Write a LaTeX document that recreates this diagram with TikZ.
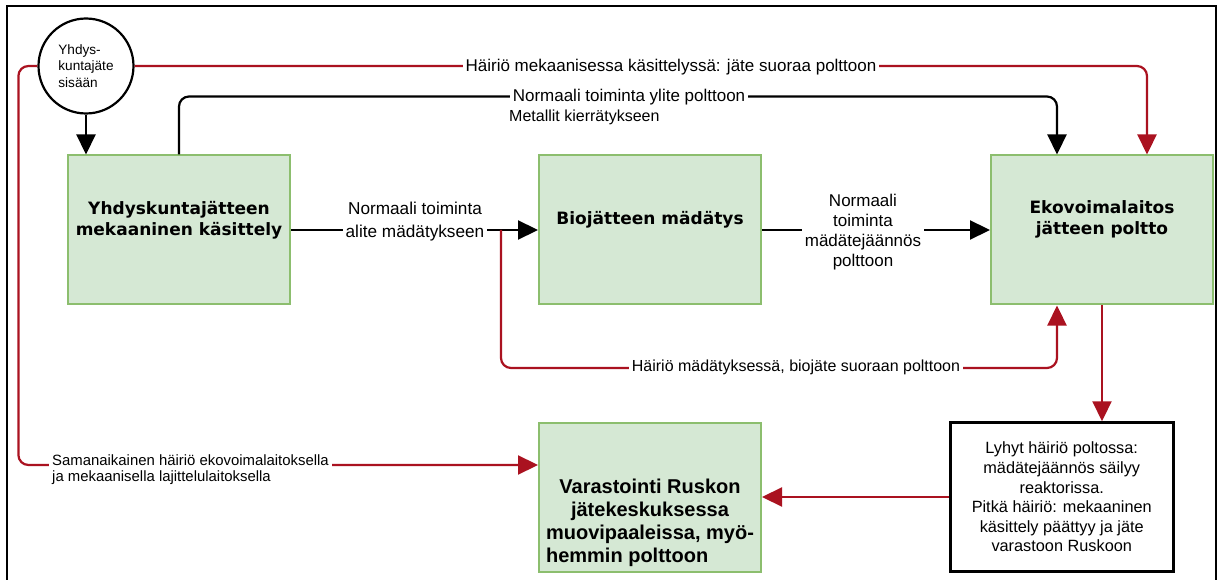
\documentclass[tikz,border=0pt]{standalone}
\usepackage{fontspec}
\setmainfont{Liberation Sans}
\newfontfamily\boxfont{DejaVu Sans}
\usetikzlibrary{arrows.meta,positioning}
\definecolor{boxgreen}{RGB}{140,190,110}
\definecolor{boxfill}{RGB}{213,232,212}
\definecolor{faultred}{RGB}{170,18,32}

\begin{document}
\begin{tikzpicture}[x=1pt,y=-1pt,
        box/.style={rectangle,draw=boxgreen,fill=boxfill,line width=2pt,
          minimum width=222pt,minimum height=149pt,align=center,text depth=24pt,
          font=\boxfont\bfseries\fontsize{17}{21}\selectfont},
        notebox/.style={rectangle,draw=black,fill=white,line width=2.5pt,
          minimum width=223pt,minimum height=149pt,align=center,
          font=\fontsize{16.3}{19.6}\selectfont},
        lbl/.style={fill=white,inner sep=3pt,align=center,font=\fontsize{17}{20}\selectfont},
        arrow/.style={-{Triangle[length=20pt,width=19pt]},line width=2.2pt},
        fault/.style={arrow,draw=faultred,rounded corners=10pt}]
        \useasboundingbox (0,0) rectangle (1219,580);
        \draw[line width=2pt] (7,580) |- (1216,6) -- (1216,580);
        \node[circle,draw,fill=white,line width=2.2pt,minimum size=95pt,inner sep=0pt,
          align=left,font=\fontsize{13.6}{16.5}\selectfont] (in) at (86,66) {Yhdys-\\kuntajäte\\sisään};
        \node[box] (mech) at (179,230) {Yhdyskuntajätteen\\mekaaninen käsittely};
        \node[box,right=247pt of mech] (bio) {Biojätteen mädätys};
        \node[box,right=228pt of bio] (eko) {Ekovoimalaitos\\jätteen poltto};
        \node[box,below=116pt of bio,font=\bfseries\fontsize{20}{23}\selectfont,text depth=0pt]
          (store) {\\[38pt]Varastointi Ruskon\\jätekeskuksessa\\\rlap{muovipaaleissa, myö-}\phantom{muovipaaleissa, myö-}\\\rlap{hemmin polttoon}\phantom{muovipaaleissa, myö-}};
        \node[notebox,right=187pt of store] (note) {Lyhyt häiriö poltossa:\\mädätejäännös säilyy\\reaktorissa.\\Pitkä häiriö: mekaaninen\\käsittely päättyy ja jäte\\varastoon Ruskoon};
        \draw[arrow] (in.south) -- (in.south |- mech.north);
        \draw[arrow,rounded corners=10pt] (mech.north) -- ++(0,-58) -| ([xshift=-45pt]eko.north);
        \draw[fault] (in.east) -| ([xshift=45pt]eko.north);
        \draw[fault] (in.west) -- ++(-19,0) |- ([yshift=32pt]store.west);
        \draw[arrow] (mech) -- (bio);
        \draw[fault] ([xshift=-37pt]bio.west) -- ++(0,138) -| ([xshift=-45pt]eko.south);
        \draw[arrow] (bio) -- (eko);
        \draw[fault] (eko.south) -- (eko.south |- note.north);
        \draw[fault] (store.east -| note.west) -- (store.east);
        \node[lbl] (toplbl) at (671,67) {Häiriö mekaanisessa käsittelyssä: jäte suoraa polttoon};
        \node[lbl] (ylite) at (629,97) {Normaali toiminta ylite polttoon};
        \node[lbl,anchor=west,font=\fontsize{16}{19}\selectfont] (metal) at (506,117) {Metallit kierrätykseen};
        \node[lbl,font=\fontsize{17.2}{23}\selectfont] (alite) at (415,222) {Normaali toiminta\\alite mädätykseen};
        \node[lbl] (jaannos) at (863,232) {Normaali\\toiminta\\mädätejäännös\\polttoon};
        \node[lbl,font=\fontsize{16}{19}\selectfont] (biolbl) at (796,367) {Häiriö mädätyksessä, biojäte suoraan polttoon};
        \node[lbl,anchor=north west,align=left,font=\fontsize{14.9}{16}\selectfont] (samalbl) at (49,452) {Samanaikainen häiriö ekovoimalaitoksella\\ja mekaanisella lajittelulaitoksella};
      \end{tikzpicture}
\end{document}
